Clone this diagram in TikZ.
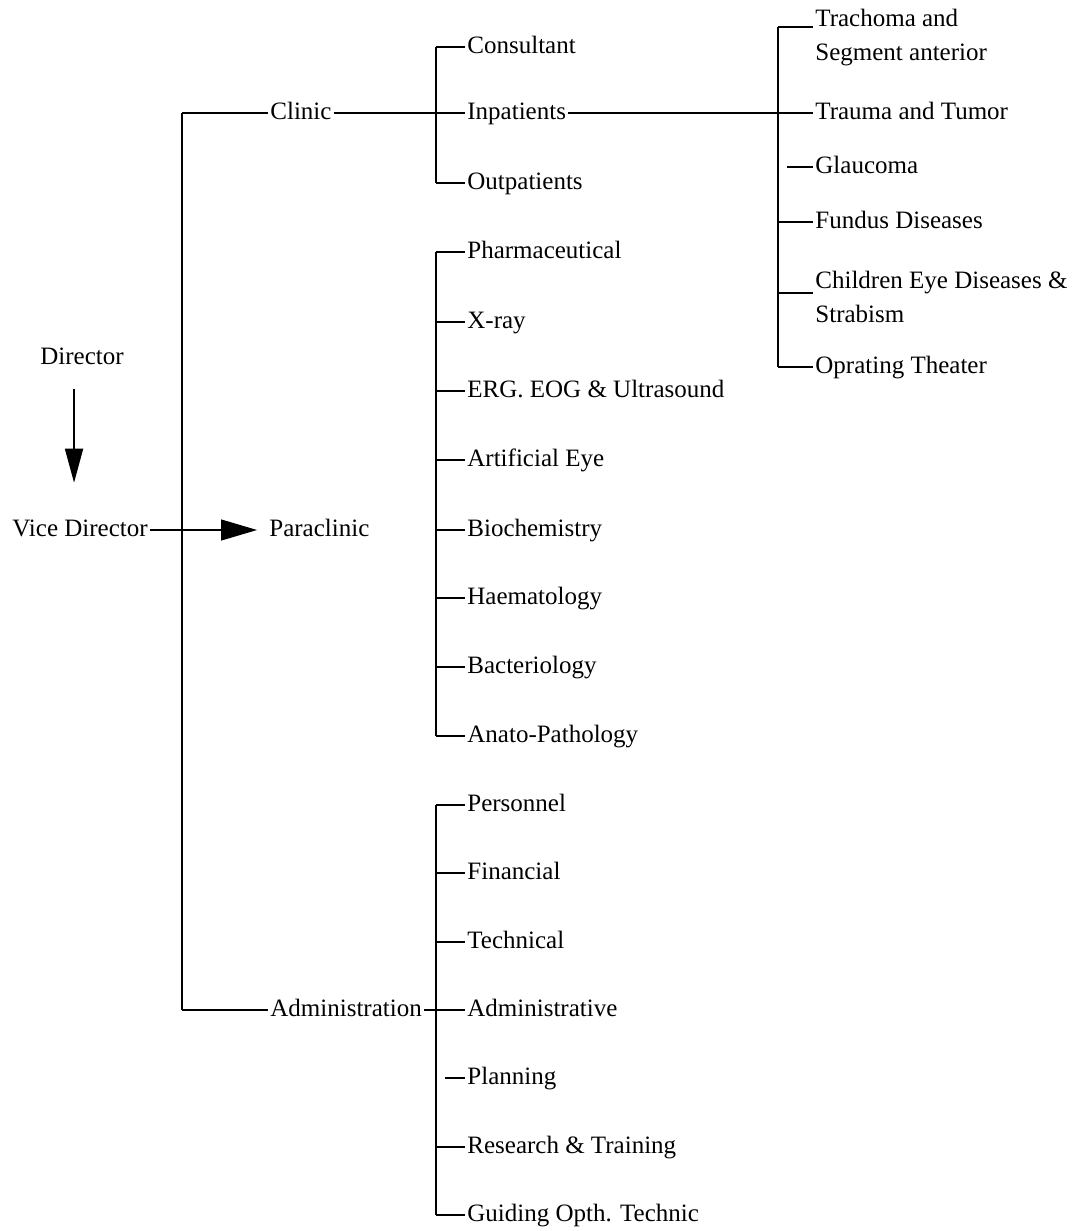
\documentclass[tikz,border=0pt]{standalone}
\usepackage{fontspec}
\setmainfont{Liberation Serif}
\usetikzlibrary{arrows.meta}

\begin{document}
\begin{tikzpicture}[
    x=0.5pt, y=-0.5pt,
    unit/.style={inner sep=1pt, font=\fontsize{12.5}{17}\selectfont, text height=8.8pt, text depth=2.5pt, anchor=west},
    twoline/.style={inner sep=1pt, font=\fontsize{12.5}{17}\selectfont, align=left, anchor=west},
    twig/.style={line width=0.6pt},
    bar/.style={line width=1.1pt}
]
\useasboundingbox (0,0) rectangle (1078,1231);

% Direction
\node[unit] (dir) at (38,358) {Director};
\node[unit] (vice) at (10,530) {Vice Director};

% Branches principales
\node[unit] (clinic) at (268,113) {Clinic};
\node[unit] (para) at (267,530) {Paraclinic};
\node[unit] (admin) at (268,1010) {Administration};

% Clinic
\node[unit] (cons) at (465,47) {Consultant};
\node[unit] (inp) at (465,113) {Inpatients};
\node[unit] (outp) at (465,183) {Outpatients};

% Inpatients
\node[twoline] (trach) at (813,38) {Trachoma and\\Segment anterior};
\node[unit] (trauma) at (813,113) {Trauma and Tumor};
\node[unit] (glauc) at (813,167) {Glaucoma};
\node[unit] (fundus) at (813,222) {Fundus Diseases};
\node[twoline] (child) at (813,297) {Children Eye Diseases \&\\Strabism};
\node[unit] (oprat) at (813,367) {Oprating Theater};

% Paraclinic
\node[unit] (pharm) at (465,252) {Pharmaceutical};
\node[unit] (xray) at (465,322) {X-ray};
\node[unit] (erg) at (465,391) {ERG. EOG \& Ultrasound};
\node[unit] (arteye) at (465,460) {Artificial Eye};
\node[unit] (bioch) at (465,530) {Biochemistry};
\node[unit] (haem) at (465,598) {Haematology};
\node[unit] (bact) at (465,667) {Bacteriology};
\node[unit] (anato) at (465,736) {Anato-Pathology};

% Administration
\node[unit] (pers) at (465,805) {Personnel};
\node[unit] (fin) at (465,873) {Financial};
\node[unit] (tech) at (465,942) {Technical};
\node[unit] (admtive) at (465,1010) {Administrative};
\node[unit] (plan) at (465,1078) {Planning};
\node[unit] (resear) at (465,1147) {Research \& Training};
\node[unit] (guid) at (465,1215) {Guiding Opth. Technic};

% Barres verticales
\coordinate (trunk) at (182,0);
\coordinate (midbar) at (436,0);
\coordinate (eyebar) at (778,0);
\coordinate (trachtop) at ([yshift=5.5pt]trach.west);
\coordinate (childmid) at ([yshift=2pt]child.west);
\coordinate (dirfoot) at ([xshift=-4pt]dir.south);

% Fleches
\draw[line width=0.9pt, -{Triangle[length=17pt, width=9pt]}, shorten <=8.4pt, shorten >=16.8pt] (dirfoot) -- (dirfoot |- vice.north);
\draw[twig, -{Triangle[length=18pt, width=10.5pt]}, shorten >=5pt] (vice.east) -- (para.west);

% Connexions
\draw[bar] (clinic.west -| trunk) -- (admin.west -| trunk);
\draw[twig] (clinic.west -| trunk) -- (clinic.west);
\draw[twig] (admin.west -| trunk) -- (admin.west);
\draw[twig] (clinic.east) -- (inp.west);
\draw[twig] (inp.east) -- (trauma.west);
\draw[twig] (admin.east) -- (admtive.west);

\draw[bar] (cons.west -| midbar) -- (outp.west -| midbar);
\foreach \leaf in {cons, outp}
    \draw[twig] (\leaf.west -| midbar) -- (\leaf.west);

\draw[bar] (trachtop -| eyebar) -- (oprat.west -| eyebar);
\draw[twig] (trachtop -| eyebar) -- (trachtop);
\draw[twig] (childmid -| eyebar) -- (childmid);
\foreach \leaf in {fundus, oprat}
    \draw[twig] (\leaf.west -| eyebar) -- (\leaf.west);
\draw[twig] ([xshift=-13pt]glauc.west) -- (glauc.west);

\draw[bar] (pharm.west -| midbar) -- (anato.west -| midbar);
\foreach \leaf in {pharm, xray, erg, arteye, bioch, haem, bact, anato}
    \draw[twig] (\leaf.west -| midbar) -- (\leaf.west);

\draw[bar] (pers.west -| midbar) -- (guid.west -| midbar);
\foreach \leaf in {pers, fin, tech, resear, guid}
    \draw[twig] (\leaf.west -| midbar) -- (\leaf.west);
\draw[twig] ([xshift=-10pt]plan.west) -- (plan.west);

\end{tikzpicture}
\end{document}
